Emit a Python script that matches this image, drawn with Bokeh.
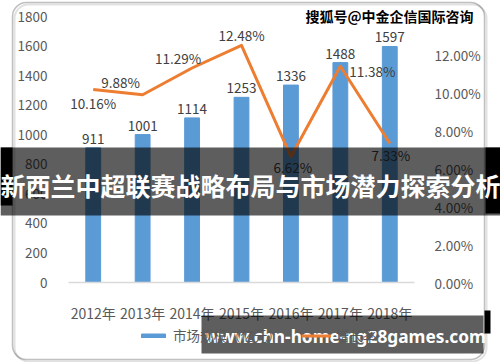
from bokeh.plotting import figure
from bokeh.models import (Range1d, LinearAxis, NumeralTickFormatter, FixedTicker,
                          ColumnDataSource, Legend, LegendItem, BoxAnnotation, Label)
from bokeh.core.properties import value
from bokeh.embed import file_html
from bokeh.resources import INLINE

# ---- data ----
years = ["2012年", "2013年", "2014年", "2015年", "2016年", "2017年", "2018年"]
market = [911, 1001, 1114, 1253, 1336, 1488, 1597]
growth = [0.1016, 0.0988, 0.1129, 0.1248, 0.0662, 0.1138, 0.0733]
left_ticks = [0, 200, 400, 600, 800, 1000, 1200, 1400, 1600, 1800]
right_ticks = [0, 0.02, 0.04, 0.06, 0.08, 0.10, 0.12]
series_names = ["市场规模（亿元）", "增长率"]
title_text = "新西兰中超联赛战略布局与市场潜力探索分析"
watermark_text = "搜狐号@中金企信国际咨询"
url_text = "www.chn-home-ng28games.com"

# label offsets for growth labels (screen px)
gdx = [0, -22, -14, 0, 2, 32, 1]
gdy = [14, -13, -10, -10, 10, 5, 12]

FS = "Noto Sans CJK SC"
FONT = value(FS)
BLUE = "#5B9BD5"
ORANGE = "#ED7D31"
AX = "#595959"
LAB = "#404040"

W, H = 500, 362
# plot-area geometry in pixels (frame spans the whole canvas so overlays are not clipped)
PL, PR, PT, PB = 68, 414, 16, 282
n = len(years)
ux = (PR - PL) / n
xs = list(range(n))
x0 = -0.5 - PL / ux
x1 = x0 + W / ux
ymax = left_ticks[-1]
uy = (PB - PT) / ymax
y0 = -(H - PB) / uy
y1 = ymax + PT / uy
gmax = 0.14
ug = (PB - PT) / gmax
g0 = -(H - PB) / ug
g1 = gmax + PT / ug

src = ColumnDataSource(dict(
    x=xs, market=market, growth=growth,
    mlab=[str(v) for v in market],
    glab=["%.2f%%" % (g * 100) for g in growth],
    gdx=gdx, gdy=gdy,
))

p = figure(x_range=Range1d(x0, x1), y_range=Range1d(y0, y1),
           x_axis_type=None, y_axis_type=None,
           width=W, height=H, output_backend="svg", toolbar_location=None,
           min_border=0)
p.outline_line_color = None
p.background_fill_color = "white"
p.border_fill_color = "white"
p.extra_y_ranges = {"g": Range1d(g0, g1)}

# left axis
ya = LinearAxis(ticker=FixedTicker(ticks=left_ticks), fixed_location=-0.5, bounds=(0, ymax))
ya.axis_line_color = None
ya.major_tick_line_color = None
ya.minor_tick_line_color = None
ya.major_label_standoff = 15
ya.major_label_text_font = FS
ya.major_label_text_font_size = "13.5px"
ya.major_label_text_color = AX
p.add_layout(ya, "left")

# right axis
ra = LinearAxis(y_range_name="g", ticker=FixedTicker(ticks=right_ticks),
                formatter=NumeralTickFormatter(format="0.00%"),
                fixed_location=n - 0.5, bounds=(0, gmax))
ra.axis_line_color = None
ra.major_tick_line_color = None
ra.minor_tick_line_color = None
ra.major_label_standoff = 14
ra.major_label_text_font = FS
ra.major_label_text_font_size = "13.5px"
ra.major_label_text_color = AX
p.add_layout(ra, "right")

# bottom axis
xa = LinearAxis(ticker=FixedTicker(ticks=xs), fixed_location=0, bounds=(-0.5, n - 0.5),
                major_label_overrides={i: y for i, y in zip(xs, years)})
xa.axis_line_color = "#D9D9D9"
xa.axis_line_width = 1.5
xa.major_tick_line_color = None
xa.minor_tick_line_color = None
xa.major_label_standoff = 14
xa.major_label_text_font = FS
xa.major_label_text_font_size = "14px"
xa.major_label_text_color = AX
p.add_layout(xa, "below")

bars = p.vbar(x="x", top="market", width=0.3, color=BLUE, source=src)
line = p.line(x="x", y="growth", y_range_name="g", line_color=ORANGE, line_width=3,
              line_join="round", source=src)

p.text(x="x", y="market", text="mlab", source=src, text_font=FONT, text_font_size="13.5px",
       text_color=LAB, text_align="center", text_baseline="middle", y_offset=-9)
p.text(x="x", y="growth", text="glab", y_range_name="g", source=src, text_font=FONT,
       text_font_size="13.5px", text_color=LAB, text_align="center", text_baseline="middle",
       x_offset="gdx", y_offset="gdy")

legend = Legend(items=[LegendItem(label=series_names[0], renderers=[bars]),
                       LegendItem(label=series_names[1], renderers=[line])],
                orientation="horizontal", location=(138, 17),
                label_text_font=FS, label_text_font_size="13.5px", label_text_color=AX,
                glyph_width=30, glyph_height=5, label_height=16, label_standoff=5,
                spacing=20, padding=0, margin=0,
                background_fill_alpha=0, border_line_alpha=0)
p.add_layout(legend)

# ---- overlays (canvas units) ----
def cbox(l, r, t, b, **kw):
    bx = BoxAnnotation(left=l, right=r, top=t, bottom=b,
                       left_units="canvas", right_units="canvas",
                       top_units="canvas", bottom_units="canvas", **kw)
    p.add_layout(bx)
    return bx

# chart frame border with a soft shadow
cbox(14, 486, 4, 361, fill_alpha=0, line_color="#9a9a9a", line_width=2, border_radius=14)
cbox(12, 484, 2, 359, fill_alpha=0, line_color="#303030", line_width=1.5, border_radius=14)

cbox(0, 500, 147, 215, fill_color="black", fill_alpha=0.63, line_color=None)
cbox(0, 12, 147, 205, fill_color="black", fill_alpha=1.0, line_color=None)
cbox(485, 500, 147, 213, fill_color="black", fill_alpha=1.0, line_color=None)
cbox(201, 483, 315, 353, fill_color="black", fill_alpha=0.63, line_color=None)
cbox(484, 490, 310, 333, fill_color="black", fill_alpha=1.0, line_color=None)

p.add_layout(Label(x=250, y=184, x_units="canvas", y_units="canvas", text=title_text,
                   text_font=FS, text_font_size="25px", text_font_style="bold",
                   text_color="white", text_align="center", text_baseline="middle"))
p.add_layout(Label(x=389, y=15, x_units="canvas", y_units="canvas", text=watermark_text,
                   text_font=FS, text_font_size="14px", text_font_style="bold",
                   text_color="black",
                   text_align="center", text_baseline="middle"))
p.add_layout(Label(x=345, y=336, x_units="canvas", y_units="canvas", text=url_text,
                   text_font="Noto Sans", text_font_size="17.3px", text_font_style="bold",
                   text_color="white", text_align="center", text_baseline="middle"))

open("out.html", "w").write(file_html(p, INLINE))
